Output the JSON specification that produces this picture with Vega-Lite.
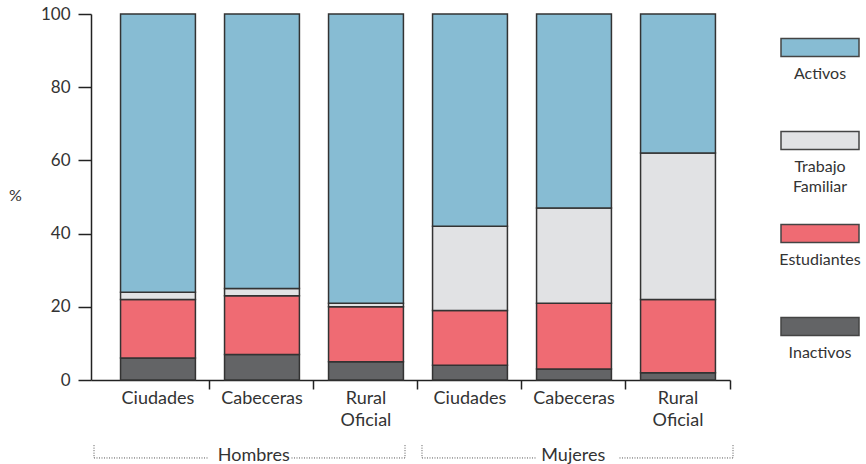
{
  "$schema": "https://vega.github.io/schema/vega-lite/v6.json",
  "padding": {"left": 8, "top": 5, "right": 5, "bottom": 0},
  "config": {
    "view": {"stroke": null},
    "font": "Lato",
    "concat": {"spacing": 45}
  },
  "datasets": {
    "bars": [
      {"key": "Hombres|Ciudades", "cat": "Inactivos", "ord": 1, "value": 6},
      {"key": "Hombres|Ciudades", "cat": "Estudiantes", "ord": 2, "value": 16},
      {"key": "Hombres|Ciudades", "cat": "Trabajo Familiar", "ord": 3, "value": 2},
      {"key": "Hombres|Ciudades", "cat": "Activos", "ord": 4, "value": 76},
      {"key": "Hombres|Cabeceras", "cat": "Inactivos", "ord": 1, "value": 7},
      {"key": "Hombres|Cabeceras", "cat": "Estudiantes", "ord": 2, "value": 16},
      {"key": "Hombres|Cabeceras", "cat": "Trabajo Familiar", "ord": 3, "value": 2},
      {"key": "Hombres|Cabeceras", "cat": "Activos", "ord": 4, "value": 75},
      {"key": "Hombres|Rural Oficial", "cat": "Inactivos", "ord": 1, "value": 5},
      {"key": "Hombres|Rural Oficial", "cat": "Estudiantes", "ord": 2, "value": 15},
      {"key": "Hombres|Rural Oficial", "cat": "Trabajo Familiar", "ord": 3, "value": 1},
      {"key": "Hombres|Rural Oficial", "cat": "Activos", "ord": 4, "value": 79},
      {"key": "Mujeres|Ciudades", "cat": "Inactivos", "ord": 1, "value": 4},
      {"key": "Mujeres|Ciudades", "cat": "Estudiantes", "ord": 2, "value": 15},
      {"key": "Mujeres|Ciudades", "cat": "Trabajo Familiar", "ord": 3, "value": 23},
      {"key": "Mujeres|Ciudades", "cat": "Activos", "ord": 4, "value": 58},
      {"key": "Mujeres|Cabeceras", "cat": "Inactivos", "ord": 1, "value": 3},
      {"key": "Mujeres|Cabeceras", "cat": "Estudiantes", "ord": 2, "value": 18},
      {"key": "Mujeres|Cabeceras", "cat": "Trabajo Familiar", "ord": 3, "value": 26},
      {"key": "Mujeres|Cabeceras", "cat": "Activos", "ord": 4, "value": 53},
      {"key": "Mujeres|Rural Oficial", "cat": "Inactivos", "ord": 1, "value": 2},
      {"key": "Mujeres|Rural Oficial", "cat": "Estudiantes", "ord": 2, "value": 20},
      {"key": "Mujeres|Rural Oficial", "cat": "Trabajo Familiar", "ord": 3, "value": 40},
      {"key": "Mujeres|Rural Oficial", "cat": "Activos", "ord": 4, "value": 38}
    ],
    "groups": [
      {"g": "Hombres"},
      {"g": "Mujeres"}
    ],
    "legend": [
      {"cat": "Activos"},
      {"cat": "Trabajo Familiar"},
      {"cat": "Estudiantes"},
      {"cat": "Inactivos"}
    ]
  },
  "hconcat": [
    {
      "width": 639,
      "height": 366,
      "resolve": {"scale": {"x": "independent"}},
      "layer": [
        {
          "data": {"name": "bars"},
          "mark": {"type": "bar", "width": {"band": 0.72}, "stroke": "#333333", "strokeWidth": 1.5},
          "encoding": {
            "x": {
              "field": "key", "type": "nominal",
              "sort": ["Hombres|Ciudades", "Hombres|Cabeceras", "Hombres|Rural Oficial", "Mujeres|Ciudades", "Mujeres|Cabeceras", "Mujeres|Rural Oficial"],
              "scale": {"paddingInner": 0, "paddingOuter": 0.072, "align": 1},
              "axis": {
                "title": null, "bandPosition": 1, "labelAngle": 0,
                "labelExpr": "split(split(datum.value, '|')[1], ' ')",
                "labelFontSize": 18, "labelColor": "#333333", "labelLineHeight": 22,
                "labelPadding": 0, "tickSize": 9, "tickColor": "#222222", "tickWidth": 1.5,
                "domainColor": "#222222", "domainWidth": 1.5
              }
            },
            "y": {
              "field": "value", "type": "quantitative", "stack": "zero",
              "scale": {"domain": [0, 100]},
              "axis": {
                "values": [0, 20, 40, 60, 80, 100], "grid": false,
                "title": "%", "titleAngle": 0, "titleX": -76, "titleY": 181,
                "titleAlign": "center", "titleBaseline": "middle",
                "titleFontSize": 16, "titleFontWeight": "normal", "titleColor": "#333333",
                "labelFontSize": 17, "labelColor": "#333333", "labelPadding": 8,
                "tickSize": 13, "tickColor": "#222222", "tickWidth": 1.5,
                "domainColor": "#222222", "domainWidth": 1.5
              }
            },
            "color": {
              "field": "cat", "type": "nominal",
              "scale": {
                "domain": ["Activos", "Trabajo Familiar", "Estudiantes", "Inactivos"],
                "range": ["#87bcd3", "#e1e2e4", "#ef6b73", "#636466"]
              },
              "legend": null
            },
            "order": {"field": "ord", "type": "quantitative"}
          }
        },
        {
          "data": {"name": "groups"},
          "mark": {"type": "rule", "strokeDash": [1, 1.5], "color": "#555555", "strokeWidth": 1, "xOffset": 3, "x2Offset": -39},
          "encoding": {
            "x": {"field": "g", "type": "nominal", "bandPosition": 0, "scale": {"domain": ["Hombres", "Mujeres"], "paddingInner": 0.0518, "paddingOuter": 0}, "axis": null},
            "x2": {"field": "g", "bandPosition": 0.5},
            "y": {"datum": -21.3, "type": "quantitative"}
          }
        },
        {
          "data": {"name": "groups"},
          "mark": {"type": "rule", "strokeDash": [1, 1.5], "color": "#555555", "strokeWidth": 1, "xOffset": 45, "x2Offset": 3},
          "encoding": {
            "x": {"field": "g", "type": "nominal", "bandPosition": 0.5, "scale": {"domain": ["Hombres", "Mujeres"], "paddingInner": 0.0518, "paddingOuter": 0}, "axis": null},
            "x2": {"field": "g", "bandPosition": 1},
            "y": {"datum": -21.3, "type": "quantitative"}
          }
        },
        {
          "data": {"name": "groups"},
          "mark": {"type": "rule", "strokeDash": [1, 1.5], "color": "#555555", "strokeWidth": 1, "xOffset": 3},
          "encoding": {
            "x": {"field": "g", "type": "nominal", "bandPosition": 0, "scale": {"domain": ["Hombres", "Mujeres"], "paddingInner": 0.0518, "paddingOuter": 0}, "axis": null},
            "y": {"datum": -17.8, "type": "quantitative"},
            "y2": {"datum": -21.3}
          }
        },
        {
          "data": {"name": "groups"},
          "mark": {"type": "rule", "strokeDash": [1, 1.5], "color": "#555555", "strokeWidth": 1, "xOffset": 3},
          "encoding": {
            "x": {"field": "g", "type": "nominal", "bandPosition": 1, "scale": {"domain": ["Hombres", "Mujeres"], "paddingInner": 0.0518, "paddingOuter": 0}, "axis": null},
            "y": {"datum": -17.8, "type": "quantitative"},
            "y2": {"datum": -21.3}
          }
        },
        {
          "data": {"name": "groups"},
          "mark": {"type": "text", "fontSize": 18, "color": "#333333", "baseline": "middle", "xOffset": 3},
          "encoding": {
            "x": {"field": "g", "type": "nominal", "scale": {"domain": ["Hombres", "Mujeres"], "paddingInner": 0.0518, "paddingOuter": 0}, "axis": null},
            "y": {"datum": -20.8, "type": "quantitative"},
            "text": {"field": "g"}
          }
        }
      ]
    },
    {
      "width": 78,
      "height": 372,
      "data": {"name": "legend"},
      "layer": [
        {
          "mark": {"type": "bar", "height": 18, "yOffset": -13, "stroke": "#444444", "strokeWidth": 1.5},
          "encoding": {
            "y": {"field": "cat", "type": "nominal", "sort": ["Activos", "Trabajo Familiar", "Estudiantes", "Inactivos"], "scale": {"paddingInner": 0, "paddingOuter": 0}, "axis": null},
            "x": {"datum": 0, "type": "quantitative", "scale": {"domain": [0, 1]}, "axis": null},
            "x2": {"datum": 1},
            "color": {
              "field": "cat", "type": "nominal",
              "scale": {
                "domain": ["Activos", "Trabajo Familiar", "Estudiantes", "Inactivos"],
                "range": ["#87bcd3", "#e1e2e4", "#ef6b73", "#636466"]
              },
              "legend": null
            }
          }
        },
        {
          "mark": {"type": "text", "fontSize": 16, "color": "#333333", "baseline": "top", "dy": 5.5, "lineBreak": " ", "lineHeight": 20},
          "encoding": {
            "y": {"field": "cat", "type": "nominal", "sort": ["Activos", "Trabajo Familiar", "Estudiantes", "Inactivos"], "axis": null},
            "x": {"datum": 0.5, "type": "quantitative", "scale": {"domain": [0, 1]}, "axis": null},
            "text": {"field": "cat"}
          }
        }
      ]
    }
  ]
}
